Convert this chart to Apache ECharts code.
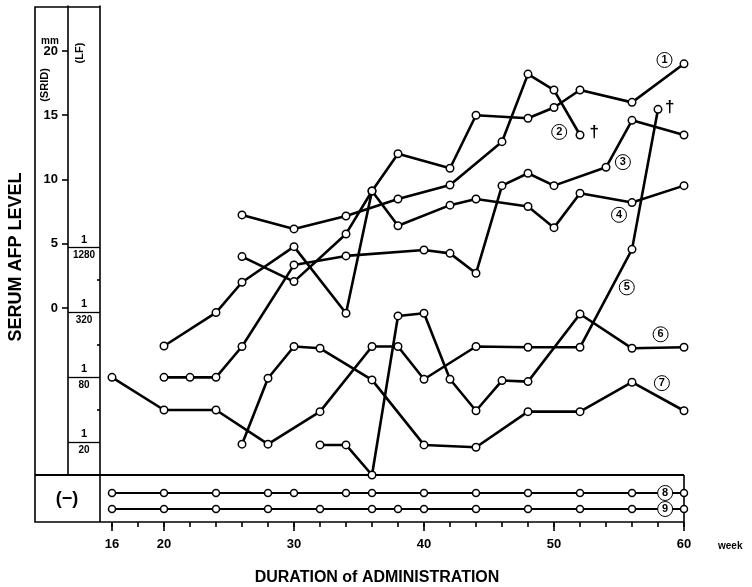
<!DOCTYPE html>
<html><head><meta charset="utf-8">
<script src="https://cdn.jsdelivr.net/npm/echarts@6/dist/echarts.min.js"></script>
<style>html,body{margin:0;padding:0;background:#fff}#c{width:752px;height:587px}</style>
</head><body><div id="c"></div><script>
// ---- data (week, level). Level scale: SRID mm above; LF titers mapped 1/1280=~5 ... 1/20=~-10
const weeks1=[26,30,34,36,38,42,44,48,50,52,56,60];
const level1=[4.0,2.05,5.76,9.1,12.0,10.87,15.0,14.76,15.6,16.96,16.0,19.0];
const weeks2=[26,30,34,38,42,46,48,50,52];
const level2=[7.24,6.15,7.16,8.48,9.57,12.94,18.2,16.96,13.46];
const weeks3=[20,22,24,26,30,34,40,42,44,46,48,50,54,56,60];
const level3=[-5.4,-5.4,-5.4,-3.0,3.35,4.05,4.51,4.25,2.7,9.52,10.48,9.52,10.95,14.6,13.46];
const weeks4=[20,24,26,30,34,36,38,42,44,48,50,52,56,60];
const level4=[-2.96,-0.36,2.0,4.77,-0.41,9.1,6.4,8.0,8.48,7.9,6.25,8.93,8.2,9.52];
const weeks5=[16,20,24,28,32,36,38,40,44,48,52,56,58];
const level5=[-5.4,-7.94,-7.94,-10.6,-8.07,-3.0,-3.0,-5.55,-3.0,-3.06,-3.06,4.56,15.46];
const weeks6=[32,34,36,38,40,42,44,46,48,52,56,60];
const level6=[-10.66,-10.66,-13,-0.62,-0.41,-5.55,-8.0,-5.65,-5.73,-0.47,-3.14,-3.06];
const weeks7=[26,28,30,32,36,40,44,48,52,56,60];
const level7=[-10.6,-5.47,-3.0,-3.14,-5.6,-10.66,-10.84,-8.07,-8.07,-5.78,-8.0];
// negative (-) cases
const weeks8=[16,20,24,28,30,34,36,40,44,48,52,56,60];
const weeks9=[16,20,24,28,32,36,38,40,44,48,52,56,60];
// label anchors (week, level)
const tagWeek=[58.5,50.4,55.3,55.0,55.6,58.2,58.3];
const tagLevel=[19.3,13.7,11.35,7.25,1.6,-2.05,-5.85];
const tagWeekNeg=58.55;
const deathWeek2=53.1, deathLevel2=13.7;
const deathWeek5=58.9, deathLevel5=15.6;
// ticks
const sridTicks=[0,5,10,15,20];
const lfLevels=[4.7,-0.35,-5.4,-10.45];
const lfDenoms=['1280','320','80','20'];
const lfMinor=[2.2,-2.9,-7.9];
const xLabelTicks=[16,20,30,40,50,60];
const xMinorTicks=[16,18,20,22,24,26,28,30,32,34,36,38,40,42,44,46,48,50,52,54,56,58,60];

const zip=(w,l)=>w.map((x,i)=>[x,l[i]]);
const FONT='Liberation Sans, Arial, sans-serif';
const chart=echarts.init(document.getElementById('c'),null,{renderer:'canvas'});

const tagPoint=(coord,txt)=>({coord:coord,value:txt,symbol:'circle',symbolSize:15,
  itemStyle:{color:'#fff',borderColor:'#000',borderWidth:1},
  label:{show:true,position:'inside',formatter:txt,color:'#000',fontSize:11,fontWeight:'bold',fontFamily:FONT}});
const daggerPoint=(coord)=>({coord:coord,symbol:'circle',symbolSize:1,
  itemStyle:{color:'rgba(0,0,0,0)',borderWidth:0},
  label:{show:true,position:'inside',formatter:'\u2020',color:'#000',fontSize:17,fontWeight:'bold',fontFamily:FONT}});

const mainW=[weeks1,weeks2,weeks3,weeks4,weeks5,weeks6,weeks7];
const mainL=[level1,level2,level3,level4,level5,level6,level7];
const series=[];
mainW.forEach((w,i)=>{
  const mp=[tagPoint([tagWeek[i],tagLevel[i]],String(i+1))];
  if(i===1) mp.push(daggerPoint([deathWeek2,deathLevel2]));
  if(i===4) mp.push(daggerPoint([deathWeek5,deathLevel5]));
  series.push({type:'line',xAxisIndex:0,yAxisIndex:0,data:zip(w,mainL[i]),clip:false,
    symbol:'circle',symbolSize:7.5,showAllSymbol:true,
    itemStyle:{color:'#fff',borderColor:'#000',borderWidth:1.5},
    lineStyle:{color:'#000',width:2.6},
    markPoint:{silent:true,data:mp},z:2});
});
[[weeks8,'8'],[weeks9,'9']].forEach(([w,c])=>{
  series.push({type:'line',xAxisIndex:1,yAxisIndex:3,data:w.map(x=>[x,c]),clip:false,
    symbol:'circle',symbolSize:7,
    itemStyle:{color:'#fff',borderColor:'#000',borderWidth:1.5},
    lineStyle:{color:'#000',width:2.2},
    markPoint:{silent:true,data:[tagPoint([tagWeekNeg,c],c)]},z:2});
});

const blk={color:'#000',width:1.6};
chart.setOption({
  animation:false,
  backgroundColor:'#fff',
  grid:[{left:112,right:68,top:6,bottom:112},{left:112,right:68,top:485,height:32}],
  xAxis:[
    {gridIndex:0,type:'value',min:16,max:60,show:false},
    {gridIndex:1,type:'value',min:16,max:60,offset:5,position:'bottom',
      axisLine:{show:false},splitLine:{show:false},
      axisTick:{show:true,customValues:xMinorTicks,length:5,lineStyle:blk},
      axisLabel:{show:false}},
    {gridIndex:1,type:'value',min:16,max:60,offset:5,position:'bottom',
      axisLine:{show:false},splitLine:{show:false},
      axisTick:{show:true,customValues:xLabelTicks,length:9,lineStyle:blk},
      axisLabel:{show:true,customValues:xLabelTicks,margin:16,color:'#000',fontSize:13,fontWeight:'bold',fontFamily:FONT},
      name:'week',nameLocation:'end',nameGap:34,
      nameTextStyle:{color:'#000',fontSize:10,fontWeight:'bold',fontFamily:FONT,verticalAlign:'top',padding:[19,0,0,0]}}
  ],
  yAxis:[
    {gridIndex:0,type:'value',min:-13,max:23.5,position:'left',offset:44,
      axisLine:{show:true,lineStyle:blk},splitLine:{show:false},
      axisTick:{show:true,customValues:sridTicks,length:6,lineStyle:blk},
      axisLabel:{show:true,customValues:sridTicks,margin:10,color:'#000',fontSize:13,fontWeight:'bold',fontFamily:FONT}},
    {gridIndex:0,type:'value',min:-13,max:23.5,position:'left',offset:12,
      axisLine:{show:true,lineStyle:blk},splitLine:{show:false},
      axisTick:{show:true,customValues:lfLevels,length:32,lineStyle:{color:'#000',width:1.3}},
      axisLabel:{show:true,customValues:lfLevels,margin:16,align:'center',
        formatter:function(v){let k=0,b=1e9;lfLevels.forEach((l,i)=>{if(Math.abs(l-v)<b){b=Math.abs(l-v);k=i;}});return '{n|1}\n{d|'+lfDenoms[k]+'}';},
        rich:{n:{fontSize:11,fontWeight:'bold',fontFamily:FONT,color:'#000',lineHeight:16},
              d:{fontSize:10,fontWeight:'bold',fontFamily:'Liberation Sans Narrow, Liberation Sans, sans-serif',color:'#000',lineHeight:16}}}},
    {gridIndex:0,type:'value',min:-13,max:23.5,position:'left',offset:12,
      axisLine:{show:false},splitLine:{show:false},
      axisTick:{show:true,customValues:lfMinor,length:3,lineStyle:blk},
      axisLabel:{show:false}},
    {gridIndex:1,type:'category',data:['9','8'],show:false}
  ],
  series:series,
  graphic:[
    {type:'polyline',shape:{points:[[100,7],[35,7],[35,522],[684,522],[684,475]]},style:{stroke:'#000',lineWidth:1.6,fill:null},silent:true},
    {type:'line',shape:{x1:35,y1:475,x2:684,y2:475},style:{stroke:'#000',lineWidth:2},silent:true},
    {type:'line',shape:{x1:100,y1:475,x2:100,y2:522},style:{stroke:'#000',lineWidth:1.6},silent:true},
    {type:'text',x:16,y:257,rotation:Math.PI/2,style:{text:'SERUM AFP LEVEL',font:'bold 18px '+FONT,fill:'#000',textAlign:'center',textVerticalAlign:'middle'}},
    {type:'text',x:45,y:85,rotation:Math.PI/2,style:{text:'(SRID)',font:'bold 11px '+FONT,fill:'#000',textAlign:'center',textVerticalAlign:'middle'}},
    {type:'text',x:80,y:53,rotation:Math.PI/2,style:{text:'(LF)',font:'bold 11px '+FONT,fill:'#000',textAlign:'center',textVerticalAlign:'middle'}},
    {type:'text',x:50,y:41,style:{text:'mm',font:'bold 10px '+FONT,fill:'#000',textAlign:'center',textVerticalAlign:'middle'}},
    {type:'text',x:67,y:499,style:{text:'(\u2212)',font:'bold 18px '+FONT,fill:'#000',textAlign:'center',textVerticalAlign:'middle'}},
    {type:'text',x:377,y:578,style:{text:'DURATION of ADMINISTRATION',font:'bold 16px '+FONT,fill:'#000',textAlign:'center',textVerticalAlign:'middle'}}
  ]
});
</script></body></html>
